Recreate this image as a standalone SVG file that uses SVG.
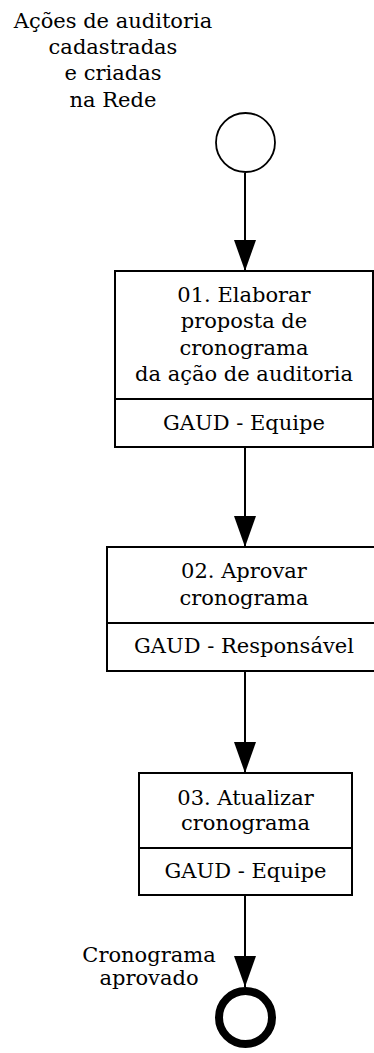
<svg xmlns="http://www.w3.org/2000/svg" width="374" height="1053" viewBox="0 0 374 1053">
<style>
text{font-family:"DejaVu Serif","Liberation Serif",serif;font-size:21px;fill:#000;text-anchor:middle}
.box{fill:#fff;stroke:#000;stroke-width:2}
.div{stroke:#000;stroke-width:2}
.conn{stroke:#000;stroke-width:2;fill:none;marker-end:url(#arr)}
</style>
<defs>
<marker id="arr" markerUnits="userSpaceOnUse" markerWidth="32" markerHeight="22" viewBox="0 0 32 22" refX="31" refY="11" orient="auto">
<path d="M0,0 L31,11 L0,22 Z" fill="#000"/>
</marker>
</defs>
<rect width="374" height="1053" fill="#fff"/>
<g id="connectors">
<line class="conn" x1="245" y1="173" x2="245" y2="271"/>
<line class="conn" x1="245" y1="448" x2="245" y2="547"/>
<line class="conn" x1="245" y1="672" x2="245" y2="773"/>
<line class="conn" x1="245" y1="896" x2="245" y2="987"/>
</g>
<g id="start">
<circle cx="245.5" cy="142.5" r="29.5" fill="#fff" stroke="#000" stroke-width="1.8"/>
<text x="113" y="28">Ações de auditoria</text>
<text x="113" y="54">cadastradas</text>
<text x="113" y="80">e criadas</text>
<text x="113" y="107">na Rede</text>
</g>
<g id="task01">
<rect class="box" x="115" y="271" width="258" height="176"/>
<line class="div" x1="115" y1="399" x2="373" y2="399"/>
<text x="244" y="302">01. Elaborar</text>
<text x="244" y="328">proposta de</text>
<text x="244" y="355">cronograma</text>
<text x="244" y="381">da ação de auditoria</text>
<text x="244" y="430">GAUD - Equipe</text>
</g>
<g id="task02">
<rect class="box" x="107" y="547" width="274" height="124"/>
<line class="div" x1="107" y1="623" x2="381" y2="623"/>
<text x="244" y="578">02. Aprovar</text>
<text x="244" y="605">cronograma</text>
<text x="244" y="653">GAUD - Responsável</text>
</g>
<g id="task03">
<rect class="box" x="139" y="773" width="213" height="122"/>
<line class="div" x1="139" y1="848" x2="352" y2="848"/>
<text x="245.5" y="805">03. Atualizar</text>
<text x="245.5" y="830">cronograma</text>
<text x="245.5" y="878">GAUD - Equipe</text>
</g>
<g id="end">
<circle cx="245.5" cy="1017.5" r="26.5" fill="#fff" stroke="#000" stroke-width="8"/>
<text x="149" y="962">Cronograma</text>
<text x="149" y="985">aprovado</text>
</g>
</svg>
